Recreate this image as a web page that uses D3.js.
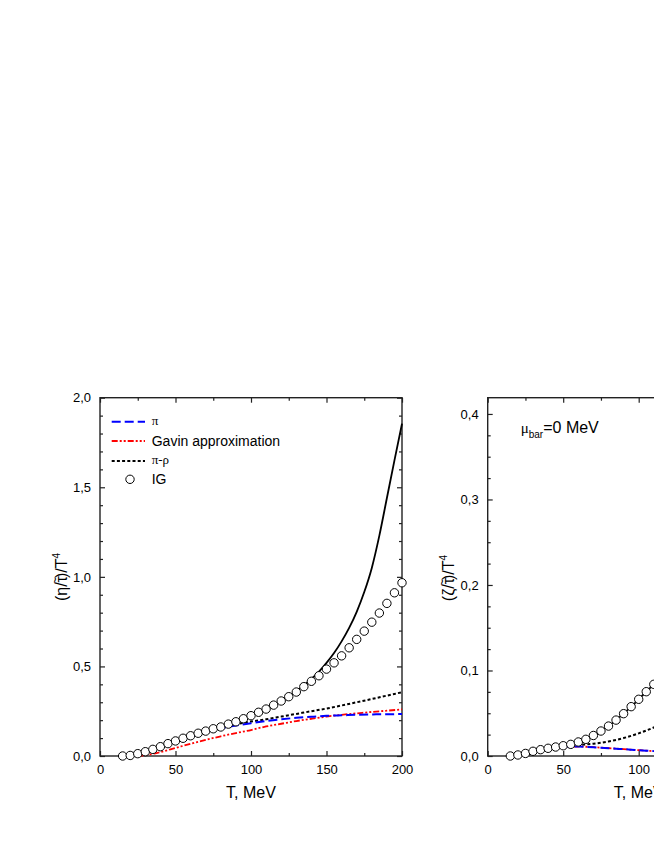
<!DOCTYPE html>
<html>
<head>
<meta charset="utf-8">
<script src="https://cdn.jsdelivr.net/npm/d3@7"></script>
<style>
    body { margin: 0; background: #fff; }
    text { font-family: "Liberation Sans", Arial, sans-serif; fill: #000; }
</style>
</head>
<body>
<svg id="chart" width="654" height="846"></svg>
<script>

// ---------------------------------- Data ----------------------------------
// left panel : (eta/tau)/T^4
var etaT = [15, 20, 25, 30, 35, 40, 45, 50, 55, 60, 65, 70, 75, 80, 85, 90, 95, 100, 105, 110,
            115, 120, 125, 130, 135, 140, 145, 150, 155, 160, 165, 170, 175, 180, 185, 190, 195, 200];
var etaIG = [0.000, 0.003, 0.013, 0.024, 0.037, 0.052, 0.069, 0.084, 0.099, 0.113, 0.127, 0.139, 0.152, 0.162,
             0.178, 0.191, 0.208, 0.225, 0.244, 0.262, 0.284, 0.307, 0.331, 0.357, 0.387, 0.417, 0.448, 0.485,
             0.520, 0.559, 0.604, 0.651, 0.697, 0.747, 0.798, 0.852, 0.911, 0.967];
var etaFull = [0.000, 0.003, 0.013, 0.024, 0.037, 0.052, 0.068, 0.083, 0.098, 0.112, 0.126, 0.139, 0.152, 0.165,
               0.179, 0.193, 0.208, 0.224, 0.242, 0.261, 0.283, 0.307, 0.333, 0.362, 0.394, 0.430, 0.471, 0.520,
               0.575, 0.640, 0.715, 0.805, 0.915, 1.050, 1.230, 1.440, 1.650, 1.855];

var etaLineT = [20, 25, 30, 40, 50, 60, 70, 80, 90, 100, 110, 120, 130, 140, 150, 160, 170, 180, 190, 200];
var etaPi    = [0.000, 0.010, 0.022, 0.050, 0.080, 0.108, 0.133, 0.155, 0.170, 0.183, 0.195, 0.205, 0.213, 0.219,
                0.224, 0.227, 0.230, 0.232, 0.233, 0.234];
var etaPiRho = [0.000, 0.010, 0.022, 0.050, 0.080, 0.110, 0.138, 0.160, 0.178, 0.192, 0.205, 0.220, 0.235, 0.250,
                0.265, 0.282, 0.300, 0.318, 0.337, 0.356];
var etaGavin = [null, 0.000, 0.004, 0.022, 0.045, 0.068, 0.090, 0.110, 0.128, 0.145, 0.165, 0.180, 0.195, 0.208,
                0.220, 0.230, 0.238, 0.246, 0.253, 0.260];

// right panel : (zeta/tau)/T^4
var zetaT = [15, 20, 25, 30, 35, 40, 45, 50, 55, 60, 65, 70, 75, 80, 85, 90, 95, 100, 105, 110, 115, 120];
var zetaIG = [0.0000, 0.0012, 0.0030, 0.0055, 0.0074, 0.0090, 0.0105, 0.0120, 0.0136, 0.0164, 0.0195, 0.0240,
              0.0292, 0.0350, 0.0420, 0.0495, 0.0577, 0.0663, 0.0752, 0.0838, 0.0930, 0.1020];
var zetaPi = [0.0000, 0.0012, 0.0030, 0.0053, 0.0072, 0.0088, 0.0100, 0.0108, 0.0112, 0.0111, 0.0107, 0.0102,
              0.0096, 0.0090, 0.0085, 0.0080, 0.0074, 0.0068, 0.0062, 0.0057, 0.0051, 0.0046];
var zetaPiRho = [0.0000, 0.0012, 0.0030, 0.0053, 0.0072, 0.0088, 0.0102, 0.0113, 0.0121, 0.0128, 0.0135, 0.0143,
                 0.0155, 0.0170, 0.0188, 0.0210, 0.0236, 0.0265, 0.0298, 0.0333, 0.0370, 0.0410];
var zetaGavin = [0.0000, 0.0010, 0.0028, 0.0050, 0.0070, 0.0087, 0.0099, 0.0107, 0.0111, 0.0111, 0.0108, 0.0103,
                 0.0097, 0.0091, 0.0086, 0.0080, 0.0074, 0.0068, 0.0062, 0.0056, 0.0050, 0.0045];

var xTicks = [0, 50, 100, 150, 200];
var xMinor = [25, 75, 125, 175];
var etaTicks = [0, 0.5, 1.0, 1.5, 2.0];
var zetaTicks = [0, 0.1, 0.2, 0.3, 0.4];

var legendNames = ["\u03c0", "Gavin approximation", "\u03c0-\u03c1", "IG"];

// ---------------------------------- Styles ----------------------------------
var styles = {
    pi:     { color: "#0000ff", dash: "9,4", width: 2 },
    gavin:  { color: "#ff0000", dash: "6,2,2,2,2,2", width: 1.8 },
    piRho:  { color: "#000000", dash: "3,2.2", width: 2 },
    full:   { color: "#000000", dash: null, width: 1.8 }
};

var svg = d3.select("#chart");
var comma = function (d) { return d3.format(".1f")(d).replace(".", ","); };

// ---------------------------------- Panel builder ----------------------------------
function buildPanel(left, top, width, height, yMax, yTicks, yMinorStep, yFmt) {
    var g = svg.append("g").attr("transform", "translate(" + left + "," + top + ")");

    var x = d3.scaleLinear().domain([0, 200]).range([0, width]);
    var y = d3.scaleLinear().domain([0, yMax]).range([height, 0]);

    var yMinor = d3.range(0, yMax, yMinorStep).filter(function (v) {
        return !yTicks.some(function (t) { return Math.abs(t - v) < 1e-6; });
    });

    // major ticks with labels
    g.append("g").attr("class", "ax").attr("transform", "translate(0," + height + ")")
        .call(d3.axisBottom(x).tickValues(xTicks).tickSize(-5).tickPadding(9).tickFormat(d3.format("d")));
    g.append("g").attr("class", "ax")
        .call(d3.axisLeft(y).tickValues(yTicks).tickSize(-5).tickPadding(9).tickFormat(yFmt));
    // mirrored ticks on top and right
    g.append("g").attr("class", "ax")
        .call(d3.axisTop(x).tickValues(xTicks).tickSize(-5).tickFormat(""));
    g.append("g").attr("class", "ax").attr("transform", "translate(" + width + ",0)")
        .call(d3.axisRight(y).tickValues(yTicks).tickSize(-5).tickFormat(""));
    // minor ticks
    g.append("g").attr("class", "ax").attr("transform", "translate(0," + height + ")")
        .call(d3.axisBottom(x).tickValues(xMinor).tickSize(-3).tickFormat(""));
    g.append("g").attr("class", "ax")
        .call(d3.axisTop(x).tickValues(xMinor).tickSize(-3).tickFormat(""));
    g.append("g").attr("class", "ax")
        .call(d3.axisLeft(y).tickValues(yMinor).tickSize(-3).tickFormat(""));
    g.append("g").attr("class", "ax").attr("transform", "translate(" + width + ",0)")
        .call(d3.axisRight(y).tickValues(yMinor).tickSize(-3).tickFormat(""));

    g.selectAll(".ax .domain").remove();
    g.selectAll(".ax line").attr("stroke", "#222").attr("stroke-width", 1.2);
    g.selectAll(".ax text").style("font-size", "13px").style("font-family", "'Liberation Sans', Arial, sans-serif").attr("fill", "#000");

    g.append("rect")
        .attr("width", width).attr("height", height)
        .attr("fill", "none").attr("stroke", "#222").attr("stroke-width", 1.4);

    // x title
    g.append("text")
        .attr("x", width / 2).attr("y", height + 42)
        .attr("text-anchor", "middle")
        .style("font-size", "16px")
        .text("T, MeV");

    return { g: g, x: x, y: y };
}

function addLine(p, ts, vals, st) {
    var pts = ts.map(function (t, i) { return { t: t, v: vals[i] }; })
        .filter(function (d) { return d.v !== null; });
    var line = d3.line()
        .x(function (d) { return p.x(d.t); })
        .y(function (d) { return p.y(d.v); })
        .curve(d3.curveMonotoneX);
    p.g.append("path")
        .datum(pts)
        .attr("d", line)
        .attr("fill", "none")
        .attr("stroke", st.color)
        .attr("stroke-width", st.width)
        .attr("stroke-dasharray", st.dash);
}

function addCircles(p, ts, vals) {
    p.g.selectAll(null)
        .data(ts.map(function (t, i) { return { t: t, v: vals[i] }; }))
        .enter()
        .append("circle")
        .attr("cx", function (d) { return p.x(d.t); })
        .attr("cy", function (d) { return p.y(d.v); })
        .attr("r", 4.2)
        .attr("fill", "#fff")
        .attr("stroke", "#000")
        .attr("stroke-width", 1);
}

// rotated y title of the form (X/tau~)/T^4, tilde drawn as its own glyph above tau
function yTitle(cx, cy, sym) {
    var t = svg.append("text")
        .attr("transform", "translate(" + cx + "," + cy + ") rotate(-90)")
        .attr("text-anchor", "middle")
        .style("font-size", "16px");
    t.append("tspan").text("(" + sym + "/\u03c4");
    t.append("tspan").attr("dx", -8).attr("dy", -8).style("font-size", "12px").text("~");
    t.append("tspan").attr("dx", -1).attr("dy", 8).text(")/T");
    t.append("tspan").attr("dy", -7).style("font-size", "10px").text("4");
}

// ---------------------------------- Left panel ----------------------------------
var pL = buildPanel(100, 397.7, 302, 358.3, 2.0, etaTicks, 0.1, comma);
addLine(pL, etaT, etaFull, styles.full);
addLine(pL, etaLineT, etaPiRho, styles.piRho);
addLine(pL, etaLineT, etaGavin, styles.gavin);
addLine(pL, etaLineT, etaPi, styles.pi);
addCircles(pL, etaT, etaIG);

yTitle(67, 577, "\u03b7");

// legend
var legend = pL.g.append("g").attr("transform", "translate(11.7,0)");
var legendRows = [
    { name: legendNames[0], st: styles.pi, y: 24, serif: true },
    { name: legendNames[1], st: styles.gavin, y: 43.3, serif: false },
    { name: legendNames[2], st: styles.piRho, y: 63.3, serif: true },
    { name: legendNames[3], st: null, y: 81.6, serif: false }
];
legendRows.forEach(function (r) {
    if (r.st) {
        legend.append("line")
            .attr("x1", 0).attr("x2", 33.3)
            .attr("y1", r.y).attr("y2", r.y)
            .attr("stroke", r.st.color)
            .attr("stroke-width", r.st.width)
            .attr("stroke-dasharray", r.st.dash);
    } else {
        legend.append("circle")
            .attr("cx", 18.3).attr("cy", r.y)
            .attr("r", 4.2)
            .attr("fill", "#fff").attr("stroke", "#000");
    }
    legend.append("text")
        .attr("x", 40).attr("y", r.y + (r.serif ? 3 : 5))
        .style("font-size", r.serif ? "13px" : "14px")
        .style("font-family", r.serif ? "'Liberation Serif', 'Times New Roman', serif" : null)
        .text(r.name);
});

// ---------------------------------- Right panel ----------------------------------
var pR = buildPanel(487.7, 397.7, 302, 358.3, 0.419, zetaTicks, 0.025, comma);
addLine(pR, zetaT, zetaIG, styles.full);
addLine(pR, zetaT, zetaPiRho, styles.piRho);
addLine(pR, zetaT, zetaGavin, styles.gavin);
addLine(pR, zetaT, zetaPi, styles.pi);
addCircles(pR, zetaT, zetaIG);

yTitle(454, 578, "\u03b6");

// mu_bar annotation
var mu = svg.append("text")
    .attr("x", 520.7).attr("y", 433)
    .style("font-size", "16px");
mu.append("tspan").style("font-family", "'Liberation Serif', serif").style("font-size", "15px").text("\u03bc");
mu.append("tspan").attr("dy", 5).style("font-size", "10px").text("bar");
mu.append("tspan").attr("dy", -5).text("=0 MeV");

</script>
</body>
</html>
